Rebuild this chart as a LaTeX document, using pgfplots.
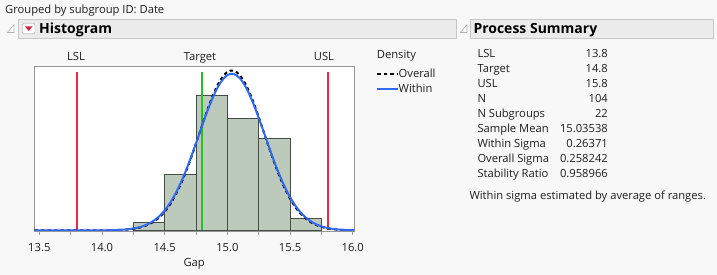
\documentclass[border=0pt]{standalone}
\usepackage{pgfplots}
\pgfplotsset{compat=1.18}
\usepackage{fontspec}
\setmainfont{Open Sans}
\definecolor{bg}{RGB}{248,248,248}
\definecolor{hdr}{RGB}{235,235,235}
\definecolor{hdrline}{RGB}{200,200,200}
\definecolor{specred}{RGB}{236,40,70}
\definecolor{specgreen}{RGB}{40,190,40}
\definecolor{curveblue}{RGB}{50,105,240}
\definecolor{barfill}{RGB}{188,202,188}
\definecolor{barline}{RGB}{70,75,70}
\definecolor{framegray}{RGB}{150,150,150}
\definecolor{txt}{RGB}{30,30,30}
\newcommand{\bodyfont}{\fontsize{11.2}{13}\selectfont}
\newcommand{\headfont}{\fontsize{14}{16}\selectfont\bfseries}
\begin{document}
\begin{tikzpicture}[x=1pt,y=1pt]
\fill[bg] (0,0) rectangle (717,275);
% top caption
\node[anchor=base west,inner sep=0,text=txt] at (5,275-14) {\bodyfont Grouped by subgroup ID: Date};
% Histogram header
\draw[fill=hdr,draw=hdrline] (18.3,275-19.5) rectangle (456,275-38.5);
\draw[fill=white,draw=gray!60,line width=0.6pt] (7.5,275-32.5) -- (14,275-32.5) -- (14,275-24.5) -- cycle;
\draw[fill=white,draw=gray!80,rounded corners=1pt] (22.5,275-23.5) rectangle (35,275-33.5);
\fill[specred!90!black] (25,275-26.5) -- (32.5,275-26.5) -- (28.75,275-31) -- cycle;
\node[anchor=base west,inner sep=0] at (39,275-34) {\headfont Histogram};
% Process Summary header
\draw[fill=hdr,draw=hdrline] (470,275-19.5) rectangle (712.7,275-38.5);
\draw[fill=white,draw=gray!60,line width=0.6pt] (460.5,275-32.5) -- (467,275-32.5) -- (467,275-24.5) -- cycle;
\node[anchor=base west,inner sep=0] at (473.3,275-34) {\headfont Process Summary};
% table
\foreach \lab/\val [count=\i from 0] in {LSL/13.8,Target/14.8,USL/15.8,N/104,N Subgroups/22,Sample Mean/15.03538,Within Sigma/0.26371,Overall Sigma/0.258242,Stability Ratio/0.958966}{
  \node[anchor=base west,inner sep=0,text=txt] at (477.3,275-57.5-15*\i) {\bodyfont \lab};
  \node[anchor=base east,inner sep=0,text=txt] at (608,275-57.5-15*\i) {\bodyfont \val};
}
\node[anchor=base west,inner sep=0,text=txt] at (469.3,275-199.3) {\bodyfont Within sigma estimated by average of ranges.};
% spec labels and legend
\node[anchor=base,inner sep=0,text=txt] at (76,275-60.7) {\bodyfont LSL};
\node[anchor=base,inner sep=0,text=txt] at (200,275-60.7) {\bodyfont Target};
\node[anchor=base,inner sep=0,text=txt] at (324,275-60.7) {\bodyfont USL};
\node[anchor=base west,inner sep=0,text=txt] at (376.7,275-58.3) {\bodyfont Density};
\draw[black,line width=2pt,dash pattern=on 3.5pt off 3pt] (377,275-73.7) -- (397.5,275-73.7);
\node[anchor=base west,inner sep=0,text=txt] at (398.5,275-77.5) {\bodyfont Overall};
\draw[curveblue,line width=2pt] (377,275-88.7) -- (397.5,275-88.7);
\node[anchor=base west,inner sep=0,text=txt] at (398.5,275-92.5) {\bodyfont Within};
\begin{axis}[
  at={(34.3pt,44pt)}, anchor=south west,
  scale only axis, width=319.7pt, height=165pt,
  xmin=13.46, xmax=16.01, ymin=-0.006, ymax=1.587,
  axis background/.style={fill=white},
  axis line style={framegray},
  xtick={13.5,14.0,14.5,15.0,15.5,16.0},
  xticklabels={13.5,14.0,14.5,15.0,15.5,16.0},
  minor xtick={13.75,14.25,14.75,15.25,15.75},
  ytick=\empty,
  xtick pos=lower, tick align=outside,
  major tick length=4pt, minor tick length=4pt,
  every tick/.style={framegray, line width=0.8pt},
  xticklabel style={font=\bodyfont, text=txt, yshift=-5pt},
  xlabel={Gap}, xlabel style={font=\bodyfont, text=txt, yshift=0pt},
  clip=true,
]
\addplot[ybar interval, fill=barfill, draw=barline, line width=0.8pt] coordinates {
(14.25,0.07692) (14.50,0.53846) (14.75,1.30769) (15.00,1.07692) (15.25,0.88462) (15.50,0.11538) (15.75,0)};
\addplot[specred, line width=1.8pt] coordinates {(13.8,0) (13.8,1.532)};
\addplot[specred, line width=1.8pt] coordinates {(15.8,0) (15.8,1.532)};
\addplot[specgreen, line width=1.8pt] coordinates {(14.8,0) (14.8,1.532)};
% overall (dashed)
\addplot[black, line width=2pt, dash pattern=on 3.5pt off 3pt, smooth] coordinates {
(13.46,0) (13.70,0.00001) (13.85,0.00009) (14.00,0.00050) (14.05,0.00106) (14.10,0.00219) (14.15,0.00433) (14.20,0.00825)
(14.25,0.01515) (14.30,0.02679) (14.35,0.04565) (14.40,0.07487) (14.45,0.11831)
(14.50,0.18011) (14.55,0.26410) (14.60,0.37293) (14.65,0.50732) (14.70,0.66471)
(14.75,0.83885) (14.80,1.01970) (14.85,1.19394) (14.90,1.34650) (14.95,1.46267)
(15.00,1.53041) (15.05,1.54237) (15.10,1.49723) (15.15,1.39992) (15.20,1.26079)
(15.25,1.09375) (15.30,0.91384) (15.35,0.73550) (15.40,0.57015) (15.45,0.42571)
(15.50,0.30620) (15.55,0.21212) (15.60,0.14152) (15.65,0.09096) (15.70,0.05631)
(15.75,0.03358) (15.80,0.01928) (15.85,0.01067) (15.90,0.00568) (15.95,0.00292)
(16.00,0.00144) (16.01,0.00125)};
% within (solid blue)
\addplot[curveblue, line width=2pt, smooth] coordinates {
(13.46,0) (13.70,0.00002) (13.85,0.00020) (14.00,0.00068) (14.05,0.00141) (14.10,0.00281) (14.15,0.00540) (14.20,0.01002)
(14.25,0.01793) (14.30,0.03099) (14.35,0.05165) (14.40,0.08305) (14.45,0.12875)
(14.50,0.19262) (14.55,0.27806) (14.60,0.38714) (14.65,0.52002) (14.70,0.67383)
(14.75,0.84228) (14.80,1.01565) (14.85,1.18158) (14.90,1.32602) (14.95,1.43555)
(15.00,1.49924) (15.05,1.51046) (15.10,1.46804) (15.15,1.37643) (15.20,1.24498)
(15.25,1.08635) (15.30,0.91437) (15.35,0.74250) (15.40,0.58160) (15.45,0.43953)
(15.50,0.32041) (15.55,0.22536) (15.60,0.15287) (15.65,0.10007) (15.70,0.06316)
(15.75,0.03847) (15.80,0.02261) (15.85,0.01282) (15.90,0.00700) (15.95,0.00370)
(16.00,0.00188) (16.01,0.00165)};
\end{axis}
\end{tikzpicture}
\end{document}
